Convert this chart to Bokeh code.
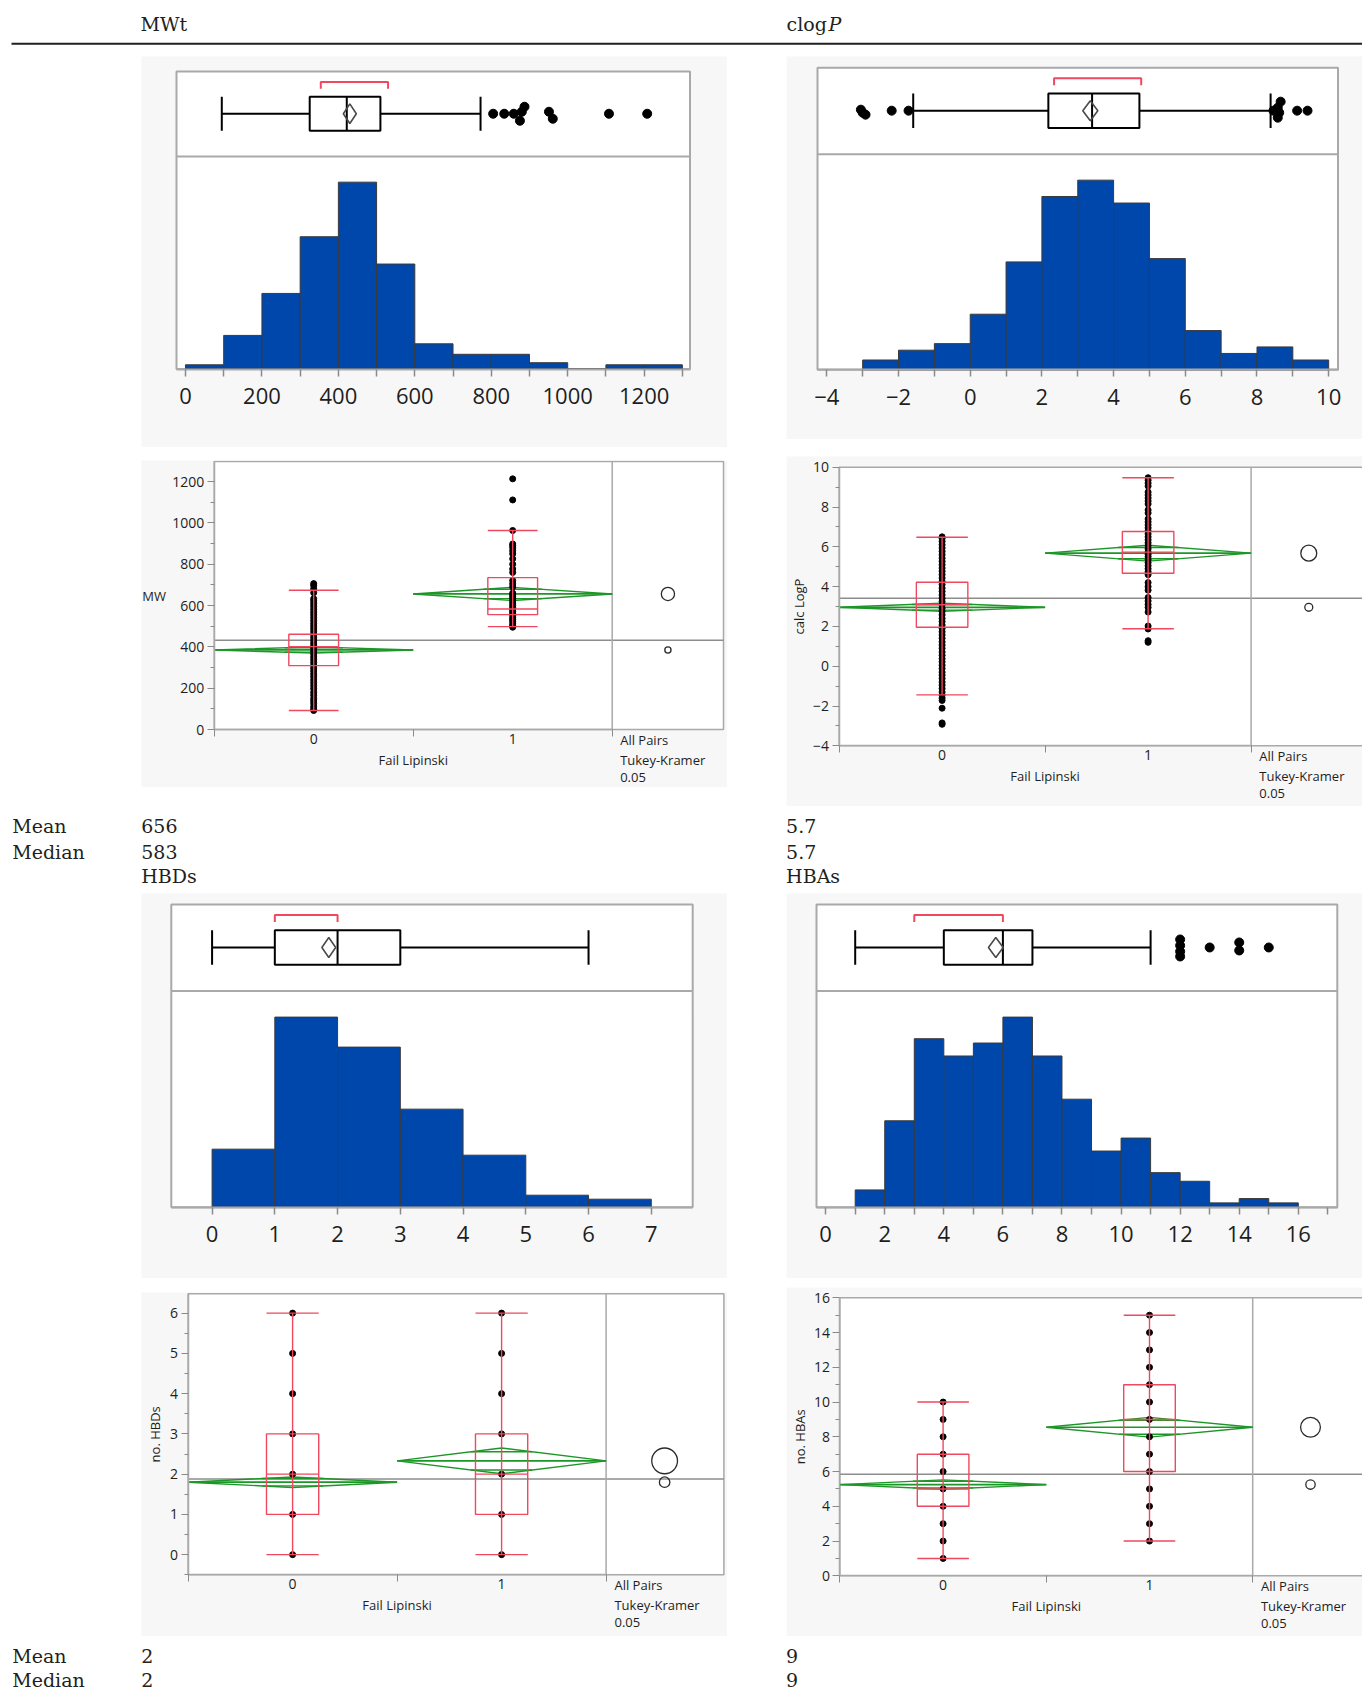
import math
from bokeh.plotting import figure
from bokeh.models import Range1d, FixedTicker, Spacer
from bokeh.layouts import row, column
from bokeh.embed import file_html
from bokeh.resources import INLINE
from bokeh.core.properties import value

# ---------------- data ----------------
stat_names = ["Mean", "Median"]
titles_top = ["MWt", "clog", "P"]
titles_bottom = ["HBDs", "HBAs"]
top_left_stats = ["656", "583"]
top_right_stats = ["5.7", "5.7"]
bottom_left_stats = ["2", "2"]
bottom_right_stats = ["9", "9"]
fail_groups = [0, 1]
group_axis_title = "Fail Lipinski"
compare_text = ["All Pairs", "Tukey-Kramer", "0.05"]

# MWt distribution
mw_edges = [0, 100, 200, 300, 400, 500, 600, 700, 800, 900, 1000, 1100, 1200, 1300]
mw_counts = [2, 16, 36, 63, 89, 50, 12, 7, 7, 3, 0, 2, 2]
mw_box = [95, 325, 422, 510, 772]          # low whisker, q1, median, q3, high whisker
mw_mean, mw_mean_ci = 430, 17
mw_shorth = [354, 530]
mw_out = [805, 834, 859, 875, 880, 887, 951, 961, 1108, 1208]
mw_out_jit = [0, 0, 0, -7, 2, 7, 2, -5, 0, 0]
mw_ticks = [0, 200, 400, 600, 800, 1000, 1200]
mw_minor = [100, 300, 500, 700, 900, 1100, 1300]

# MW by Fail Lipinski
mw_g0 = [92, 98, 110, 125, 138, 150, 166, 180, 197, 212, 226, 240, 255, 268, 283, 297, 310,
         324, 338, 351, 365, 379, 392, 405, 418, 432, 446, 459, 473, 487, 500, 513, 527, 541,
         555, 568, 582, 596, 609, 622, 633, 662, 681, 697, 706]
mw_g1 = [495, 503, 512, 524, 533, 541, 552, 562, 571, 580, 590, 600, 611, 622, 633, 643, 652,
         660, 690, 705, 721, 760, 777, 800, 826, 850, 865, 880, 890, 898, 963, 1111, 1213]
mw_lo, mw_q1, mw_med, mw_q3, mw_hi = [92, 498], [309, 556], [401, 583], [461, 735], [674, 963]
mw_gmean, mw_gci, mw_grand = [385, 656], [15, 32], 432
mw_yticks = [0, 200, 400, 600, 800, 1000, 1200]
mw_yminor = [100, 300, 500, 700, 900, 1100]

# clogP distribution
lp_edges = [-3, -2, -1, 0, 1, 2, 3, 4, 5, 6, 7, 8, 9, 10]
lp_counts = [3, 6, 8, 17, 33, 53, 58, 51, 34, 12, 5, 7, 3]
lp_box = [-1.59, 2.18, 3.40, 4.72, 8.38]
lp_mean, lp_mean_ci = 3.35, 0.21
lp_shorth = [2.34, 4.77]
lp_out = [-3.05, -3.0, -2.92, -2.19, -1.72, 8.46, 8.58, 8.62, 8.58, 8.66, 9.12, 9.41]
lp_out_jit = [1, -2, -4, 0, 0, 0, -7, -2, 3, 9, 0, 0]
lp_ticks = [-4, -2, 0, 2, 4, 6, 8, 10]
lp_minor = [-3, -1, 1, 3, 5, 7, 9]

# calc LogP by Fail Lipinski
lp_g0 = [-2.92, -2.85, -2.11, -1.72, -1.6, -1.45, -1.3, -1.12, -0.95, -0.8, -0.62, -0.45, -0.3,
         -0.12, 0.05, 0.22, 0.38, 0.55, 0.71, 0.9, 1.06, 1.22, 1.4, 1.57, 1.73, 1.9, 2.07, 2.24,
         2.4, 2.58, 2.75, 2.91, 3.08, 3.25, 3.41, 3.58, 3.76, 3.92, 4.1, 4.26, 4.43, 4.6, 4.77,
         4.93, 5.1, 5.27, 5.43, 5.6, 5.77, 5.94, 6.1, 6.27, 6.42, 6.5]
lp_g1 = [1.2, 1.28, 1.87, 2.02, 2.72, 2.95, 3.1, 3.28, 3.45, 3.82, 4.0, 4.2, 4.6, 4.75, 4.9, 5.05,
         5.2, 5.35, 5.5, 5.62, 5.75, 5.9, 6.05, 6.2, 6.35, 6.5, 6.65, 6.8, 6.95, 7.1, 7.25, 7.4,
         7.7, 7.85, 8.15, 8.3, 8.45, 8.6, 8.75, 9.05, 9.2, 9.35, 9.47]
lp_lo, lp_q1, lp_med, lp_q3, lp_hi = [-1.44, 1.88], [1.96, 4.67], [3.09, 5.73], [4.22, 6.77], [6.48, 9.47]
lp_gmean, lp_gci, lp_grand = [2.96, 5.68], [0.2, 0.4], 3.42
lp_yticks = [-4, -2, 0, 2, 4, 6, 8, 10]
lp_yminor = [-3, -1, 1, 3, 5, 7, 9]

# HBDs distribution
hbd_edges = [0, 1, 2, 3, 4, 5, 6, 7]
hbd_counts = [29, 95, 80, 49, 26, 6, 4]
hbd_box = [0, 1, 2, 3, 6]
hbd_mean, hbd_mean_ci = 1.86, 0.11
hbd_shorth = [1, 2]
hbd_out = []
hbd_out_jit = []
hbd_ticks = [0, 1, 2, 3, 4, 5, 6, 7]
hbd_minor = []

# no. HBDs by Fail Lipinski
hbd_g0 = [0, 1, 2, 3, 4, 5, 6]
hbd_g1 = [0, 1, 2, 3, 4, 5, 6]
hbd_lo, hbd_q1, hbd_med, hbd_q3, hbd_hi = [0, 0], [1, 1], [2, 2], [3, 3], [6, 6]
hbd_gmean, hbd_gci, hbd_grand = [1.80, 2.33], [0.13, 0.32], 1.88
hbd_yticks = [0, 1, 2, 3, 4, 5, 6]
hbd_yminor = [-0.5, 0.5, 1.5, 2.5, 3.5, 4.5, 5.5]

# HBAs distribution
hba_edges = [1, 2, 3, 4, 5, 6, 7, 8, 9, 10, 11, 12, 13, 14, 15, 16]
hba_counts = [4, 20, 39, 35, 38, 44, 35, 25, 13, 16, 8, 6, 1, 2, 1]
hba_box = [1, 4, 6, 7, 11]
hba_mean, hba_mean_ci = 5.76, 0.25
hba_shorth = [3, 6]
hba_out = [12, 12, 12, 12, 13, 14, 14, 15]
hba_out_jit = [-9, -4, 2, 8, 0, -3, 5, 0]
hba_ticks = [0, 2, 4, 6, 8, 10, 12, 14, 16]
hba_minor = [1, 3, 5, 7, 9, 11, 13, 15, 17]

# no. HBAs by Fail Lipinski
hba_g0 = [1, 2, 3, 4, 5, 6, 7, 8, 9, 10]
hba_g1 = [2, 3, 4, 5, 6, 7, 8, 9, 10, 11, 12, 13, 14, 15]
hba_lo, hba_q1, hba_med, hba_q3, hba_hi = [1, 2], [4, 6], [5, 9], [7, 11], [10, 15]
hba_gmean, hba_gci, hba_grand = [5.25, 8.55], [0.27, 0.57], 5.84
hba_yticks = [0, 2, 4, 6, 8, 10, 12, 14, 16]
hba_yminor = [1, 3, 5, 7, 9, 11, 13, 15]

# ---------------- style ----------------
PANEL_BG = "#f7f7f7"
FRAME = "#a9a9a9"
TICK = "#8a8a8a"
BLUE = "#0047ab"
RED = "#f0485e"
GREEN = "#1c9627"
TXT = "#1e1e1e"
SANS = "Open Sans"
SERIF = "DejaVu Serif"
SEP, BOXC, BOXH, BRK, LEG, DIAH = 0.714, 0.858, 0.057, 0.965, 0.942, 0.033


def dist_panel(w, h, frame_px, xr, edges, counts, box, mean, ci, shorth, outl, jit, major, minor):
    fl, fr, ft, fb = frame_px
    xr0, xr1 = xr
    ppx = (fr - fl) / (xr1 - xr0)
    fh = fb - ft
    ytop = max(counts) / 0.628
    upc = ytop / fh
    p = figure(width=w, height=h,
               x_range=Range1d(xr0 - fl / ppx, xr1 + (w - fr) / ppx),
               y_range=Range1d(-(h - fb) * upc, ytop + ft * upc),
               toolbar_location=None, output_backend="svg", y_axis_type=None, min_border=0,
               background_fill_color=PANEL_BG, border_fill_color=PANEL_BG,
               outline_line_color=None)
    p.extra_y_ranges = {"frac": Range1d(-(h - fb) / fh, 1 + ft / fh)}
    p.grid.visible = False
    p.quad(left=[xr0], right=[xr1], bottom=[0], top=[ytop], fill_color="white",
           line_color=FRAME, line_width=2, level="image")
    p.quad(left=edges[:-1], right=edges[1:], bottom=0, top=counts,
           fill_color=BLUE, line_color="#3a3a3a", line_width=1)
    p.segment(x0=[xr0], y0=[SEP], x1=[xr1], y1=[SEP], y_range_name="frac",
              line_color=FRAME, line_width=2)
    lo, q1, md, q3, hi = box
    p.segment(x0=[lo, q3], y0=[BOXC, BOXC], x1=[q1, hi], y1=[BOXC, BOXC],
              y_range_name="frac", line_color="black", line_width=2)
    p.segment(x0=[lo, hi], y0=[BOXC - BOXH] * 2, x1=[lo, hi], y1=[BOXC + BOXH] * 2,
              y_range_name="frac", line_color="black", line_width=2)
    p.quad(left=[q1], right=[q3], bottom=[BOXC - BOXH], top=[BOXC + BOXH], y_range_name="frac",
           fill_color="white", line_color="black", line_width=2)
    p.segment(x0=[md], y0=[BOXC - BOXH], x1=[md], y1=[BOXC + BOXH], y_range_name="frac",
              line_color="black", line_width=2)
    p.patch(x=[mean - ci, mean, mean + ci, mean], y=[BOXC, BOXC + DIAH, BOXC, BOXC - DIAH],
            y_range_name="frac", fill_color=None, line_color="#4a4a4a", line_width=1.6)
    a, c = shorth
    p.multi_line(xs=[[a, a, c, c]], ys=[[LEG, BRK, BRK, LEG]], y_range_name="frac",
                 line_color=RED, line_width=2)
    if outl:
        p.scatter(x=outl, y=[BOXC + j / fh for j in jit], y_range_name="frac",
                  size=9, color="black")
    ax = p.xaxis[0]
    ax.fixed_location = 0
    ax.bounds = (xr0, xr1)
    ax.ticker = FixedTicker(ticks=major, minor_ticks=minor)
    ax.major_label_text_font = SANS
    ax.major_label_text_font_size = "22px"
    ax.major_label_text_color = TXT
    ax.major_tick_out = 7
    ax.major_tick_in = 0
    ax.minor_tick_out = 7
    ax.minor_tick_in = 0
    ax.major_tick_line_color = TICK
    ax.minor_tick_line_color = TICK
    ax.major_tick_line_width = 1.5
    ax.minor_tick_line_width = 1.5
    ax.axis_line_color = FRAME
    ax.axis_line_width = 2
    ax.major_label_standoff = 12
    return p


def ptext(p, x, y, txt, align="left", angle=0.0):
    p.text(x=[x], y=[y], text=[txt], text_font=value(SANS), text_font_size="13px",
           text_color=TXT, text_align=align, text_baseline="middle", angle=angle)


def oneway_panel(w, h, ax_l, wr, yt, yb, gw, yr, ymaj, ymin, ylab, horizontal, ylab_dist,
                 lo, q1, md, q3, hi, gm, gci, grand, g0, g1, right_side):
    y0, y1 = yr
    upp = (y1 - y0) / (yb - yt)
    xs0 = -0.5 - ax_l / gw
    xs1 = xs0 + w / gw
    xw = xs1 + 3 / gw if right_side else -0.5 + (wr - ax_l) / gw
    ys0 = y0 - (h - yb) * upp
    ys1 = y1 + yt * upp
    p = figure(width=w, height=h, x_range=Range1d(xs0, xs1), y_range=Range1d(ys0, ys1),
               toolbar_location=None, output_backend="svg", min_border=0,
               background_fill_color=PANEL_BG, border_fill_color=PANEL_BG,
               outline_line_color=None)
    p.grid.visible = False
    # white plotting area with frame
    p.quad(left=[-0.5], right=[xw], bottom=[y0], top=[y1], fill_color="white",
           line_color=FRAME, line_width=1.5, level="image")
    # grand mean and the divider of the comparison-circle area
    p.segment(x0=[-0.5], y0=[grand], x1=[xw], y1=[grand], line_color="#8d8d8d", line_width=1.5)
    p.segment(x0=[1.5], y0=[y0], x1=[1.5], y1=[y1], line_color=FRAME, line_width=1.5)
    xc = fail_groups
    # means diamonds
    p.patches(xs=[[c - 0.5, c, c + 0.5, c] for c in xc],
              ys=[[m, m + e, m, m - e] for m, e in zip(gm, gci)],
              fill_color=None, line_color=GREEN, line_width=1.4)
    p.segment(x0=[c - 0.5 for c in xc], y0=gm, x1=[c + 0.5 for c in xc], y1=gm,
              line_color=GREEN, line_width=1.7)
    k = 1 / math.sqrt(2)
    hw = 0.5 * (1 - k)
    mx0, mx1, my = [], [], []
    for c, m, e in zip(xc, gm, gci):
        for s in (1, -1):
            mx0.append(c - hw)
            mx1.append(c + hw)
            my.append(m + s * e * k)
    p.segment(x0=mx0, y0=my, x1=mx1, y1=my, line_color=GREEN, line_width=1.4)
    # points
    for c, vals in zip(xc, (g0, g1)):
        p.scatter(x=[c] * len(vals), y=vals, size=6, color="black")
    # box plots
    bw = 0.125
    p.segment(x0=xc, y0=lo, x1=xc, y1=hi, line_color=RED, line_width=1.4)
    p.segment(x0=[c - bw for c in xc] * 3, y0=lo + hi + md,
              x1=[c + bw for c in xc] * 3, y1=lo + hi + md, line_color=RED, line_width=1.4)
    p.quad(left=[c - bw for c in xc], right=[c + bw for c in xc], bottom=q1, top=q3,
           fill_color=None, line_color=RED, line_width=1.4)
    # comparison circles
    p.circle(x=[1.78, 1.78], y=gm, radius=gci, radius_dimension="y",
             fill_color=None, line_color="#2a2a2a", line_width=1.3)
    # axes
    ya = p.yaxis[0]
    ya.fixed_location = -0.5
    ya.bounds = (y0, y1)
    ya.ticker = FixedTicker(ticks=ymaj, minor_ticks=ymin)
    ya.major_tick_out = 7
    ya.major_tick_in = 0
    ya.minor_tick_out = 4
    ya.minor_tick_in = 0
    ya.major_label_standoff = 3
    ya.axis_line_color = FRAME
    ya.axis_line_width = 1.5
    ya.major_tick_line_color = TICK
    ya.minor_tick_line_color = TICK
    ya.major_label_text_font = SANS
    ya.major_label_text_font_size = "14px"
    ya.major_label_text_color = TXT
    xa = p.xaxis[0]
    xa.fixed_location = y0
    xa.bounds = (-0.5, 1.5)
    xa.ticker = FixedTicker(ticks=xc, minor_ticks=[-0.5, 0.5, 1.5])
    xa.major_tick_out = 0
    xa.major_tick_in = 0
    xa.minor_tick_out = 7
    xa.minor_tick_in = 0
    xa.minor_tick_line_color = TICK
    xa.axis_line_color = FRAME
    xa.axis_line_width = 1.5
    xa.major_label_standoff = -3
    xa.major_label_text_font = SANS
    xa.major_label_text_font_size = "14px"
    xa.major_label_text_color = TXT
    # texts
    if horizontal:
        ptext(p, xs0 + 0.7 / gw, (y0 + y1) / 2, ylab)
    else:
        ptext(p, -0.5 - ylab_dist / gw, (y0 + y1) / 2, ylab, align="center", angle=math.pi / 2)
    ptext(p, 0.5, y0 - 30 * upp, group_axis_title, align="center")
    for txt, off in zip(compare_text, (10.5, 30, 47.5)):
        ptext(p, 1.54, y0 - off * upp, txt)
    return p


def text_fig(w, h):
    p = figure(width=w, height=h, x_range=Range1d(0, w), y_range=Range1d(h, 0),
               toolbar_location=None, output_backend="svg", x_axis_type=None, y_axis_type=None,
               min_border=0, outline_line_color=None, background_fill_color="white",
               border_fill_color="white")
    p.grid.visible = False
    return p


def put(p, x, y, txt, italic=False):
    p.text(x=[x], y=[y], text=[txt], text_font=value(SERIF), text_font_size="19px",
           text_color="#231f20", text_baseline="alphabetic", text_align="left",
           text_font_style="italic" if italic else "normal")


W = 1362
# header
hdr = text_fig(W, 56)
put(hdr, 140, 23.7, titles_top[0])
put(hdr, 786, 23.7, titles_top[1])
put(hdr, 828, 23.7, titles_top[2], italic=True)
hdr.segment(x0=[11], y0=[43.3], x1=[W], y1=[43.3], line_color="#231f20", line_width=2)

# band 1
band1 = text_fig(W, 87)
for i, (nm, a, b) in enumerate(zip(stat_names, top_left_stats, top_right_stats)):
    put(band1, 11.7, 19.3 + 26 * i, nm)
    put(band1, 140.7, 19.3 + 26 * i, a)
    put(band1, 785.6, 19.3 + 26 * i, b)
put(band1, 140.7, 69.7, titles_bottom[0])
put(band1, 785.6, 69.7, titles_bottom[1])

# band 2
band2 = text_fig(W, 54)
for i, (nm, a, b) in enumerate(zip(stat_names, bottom_left_stats, bottom_right_stats)):
    put(band2, 11.7, 19.5 + 24 * i, nm)
    put(band2, 140.7, 19.5 + 24 * i, a)
    put(band2, 785.6, 19.5 + 24 * i, b)

# panels
d_mw = dist_panel(586, 391, (35, 548.5, 15, 312.5), (-23.5, 1320), mw_edges, mw_counts, mw_box,
                  mw_mean, mw_mean_ci, mw_shorth, mw_out, mw_out_jit, mw_ticks, mw_minor)
o_mw = oneway_panel(586, 327, 72.7, 582, 1, 269, 199, (0, 1297), mw_yticks, mw_yminor, "MW",
                    True, 0, mw_lo, mw_q1, mw_med, mw_q3, mw_hi, mw_gmean, mw_gci, mw_grand,
                    mw_g0, mw_g1, False)
d_lp = dist_panel(576, 383, (31, 551.5, 11.3, 313.3), (-4.26, 10.26), lp_edges, lp_counts,
                  lp_box, lp_mean, lp_mean_ci, lp_shorth, lp_out, lp_out_jit, lp_ticks, lp_minor)
o_lp = oneway_panel(576, 350, 52.6, 576, 10.7, 289.3, 206, (-4, 10), lp_yticks, lp_yminor,
                    "calc LogP", False, 40, lp_lo, lp_q1, lp_med, lp_q3, lp_hi, lp_gmean,
                    lp_gci, lp_grand, lp_g0, lp_g1, True)
d_hbd = dist_panel(586, 385, (29.8, 551.2, 11, 313.7), (-0.65, 7.66), hbd_edges, hbd_counts,
                   hbd_box, hbd_mean, hbd_mean_ci, hbd_shorth, hbd_out, hbd_out_jit, hbd_ticks,
                   hbd_minor)
o_hbd = oneway_panel(586, 344, 46.6, 582.4, 1.3, 282.3, 209, (-0.5, 6.48), hbd_yticks,
                     hbd_yminor, "no. HBDs", False, 33.6, hbd_lo, hbd_q1, hbd_med, hbd_q3,
                     hbd_hi, hbd_gmean, hbd_gci, hbd_grand, hbd_g0, hbd_g1, False)
d_hba = dist_panel(576, 385, (30, 550.8, 11, 313.7), (-0.31, 17.32), hba_edges, hba_counts,
                   hba_box, hba_mean, hba_mean_ci, hba_shorth, hba_out, hba_out_jit, hba_ticks,
                   hba_minor)
o_hba = oneway_panel(576, 349, 53.4, 576, 10.3, 288.3, 206.4, (0, 16), hba_yticks, hba_yminor,
                     "no. HBAs", False, 40, hba_lo, hba_q1, hba_med, hba_q3, hba_hi, hba_gmean,
                     hba_gci, hba_grand, hba_g0, hba_g1, True)

col1L = column(d_mw, Spacer(width=586, height=13), o_mw, Spacer(width=586, height=19))
col1R = column(d_lp, Spacer(width=576, height=17), o_lp)
row1 = row(Spacer(width=141, height=750), col1L, Spacer(width=59, height=750), col1R)
col2L = column(d_hbd, Spacer(width=586, height=14), o_hbd)
col2R = column(d_hba, Spacer(width=576, height=9), o_hba)
row2 = row(Spacer(width=141, height=743), col2L, Spacer(width=59, height=743), col2R)

page = column(hdr, row1, band1, row2, band2)
open("out.html", "w").write(file_html(page, INLINE))
